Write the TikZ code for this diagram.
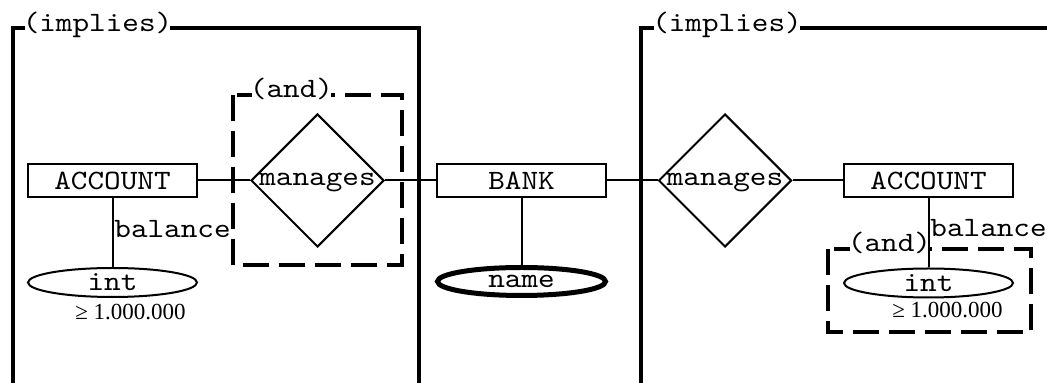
\documentclass[tikz,border=0pt]{standalone}
\usepackage{fontspec}
\setmainfont{Liberation Serif}
\newfontfamily\erfamily{lmmono10-regular.otf}[FakeStretch=1.13]
\usetikzlibrary{shapes,positioning}

\newcommand{\erfont}{\fontsize{14}{16}\selectfont\erfamily}

\begin{document}
\begin{tikzpicture}[x=0.5pt, y=-0.5pt,
    entity/.style={draw, line width=1pt, minimum width=84.5pt, minimum height=16.5pt, inner sep=0pt, font=\erfont},
    relation/.style={draw, diamond, aspect=1, line width=1pt, minimum size=66.5pt, inner xsep=-3pt, inner ysep=0pt, text height=1ex, text depth=0pt, font=\erfont},
    valuenode/.style={draw, ellipse, line width=1pt, minimum width=84.5pt, minimum height=14.5pt, inner sep=0pt, font=\erfont},
    grouplabel/.style={fill=white, inner xsep=-1pt, inner ysep=0pt, anchor=base, font=\erfont},
    implybox/.style={line width=2pt},
    andbox/.style={line width=2pt, dash pattern=on 13pt off 5pt},
    link/.style={line width=1pt}]

    \useasboundingbox (0,0) rectangle (1047,383);
    \clip (0,0) rectangle (1047,383);

    \begin{scope}
        % Left implication
        \draw [implybox] (12.5,28) rectangle (419,385);
        \node[grouplabel] (impLeftLbl) at (97.5,32) {(implies)};

        % Left conjunction
        \draw [andbox] (232.5,95) rectangle (401.5,265);
        \node[grouplabel] (andLeftLbl) at (291.5,98) {(and)};
    \end{scope}

    \begin{scope}
        % Right implication
        \draw [implybox] (640.5,28) rectangle (1070,385);
        \node[grouplabel] (impRightLbl) at (727,32) {(implies)};

        % Right conjunction
        \draw [andbox] (827.5,249.5) rectangle (1030.5,332.5);
        \node[grouplabel] (andRightLbl) at (889.5,252) {(and)};
    \end{scope}

    % Entities and relationships
    \node[entity] (accLeft) at (112.5,180.5) {ACCOUNT};
    \node[relation] (manLeft) at (317.5,180.5) {manages};
    \node[entity] (bank) at (521.5,180.5) {BANK};
    \node[relation] (manRight) at (725,180.5) {manages};
    \node[entity] (accRight) at (928.5,180.5) {ACCOUNT};

    % Attribute values
    \node[valuenode] (intLeft) at (112.5,282.5) {int};
    \node[valuenode, line width=2.5pt, minimum width=84pt, minimum height=14pt] (bankName) at (521.5,281.5) {name};
    \node[valuenode] (intRight) at (928.5,283) {int};

    % Connectors
    \draw [link] (accLeft) -- (manLeft);
    \draw [link] (manLeft) -- (bank);
    \draw [link] (bank) -- (manRight);
    \draw [link] (manRight) -- (accRight);
    \draw [link] (accLeft) -- (intLeft);
    \draw [link] (bank) -- (bankName);
    \draw [link] (accRight) -- (intRight);

    % Attribute names and constraints
    \node[anchor=base west, inner sep=0pt, font=\erfont] (balLeft) at (114,238) {balance};
    \node[anchor=base west, inner sep=0pt, font=\erfont] (balRight) at (930,237) {balance};
    \node[anchor=base, inner sep=0pt, font=\fontsize{11.5}{13}\selectfont] (minLeft) at (130.5,320) {≥ 1.000.000};
    \node[anchor=base, inner sep=0pt, font=\fontsize{11.5}{13}\selectfont] (minRight) at (947.5,318) {≥ 1.000.000};
\end{tikzpicture}
\end{document}
